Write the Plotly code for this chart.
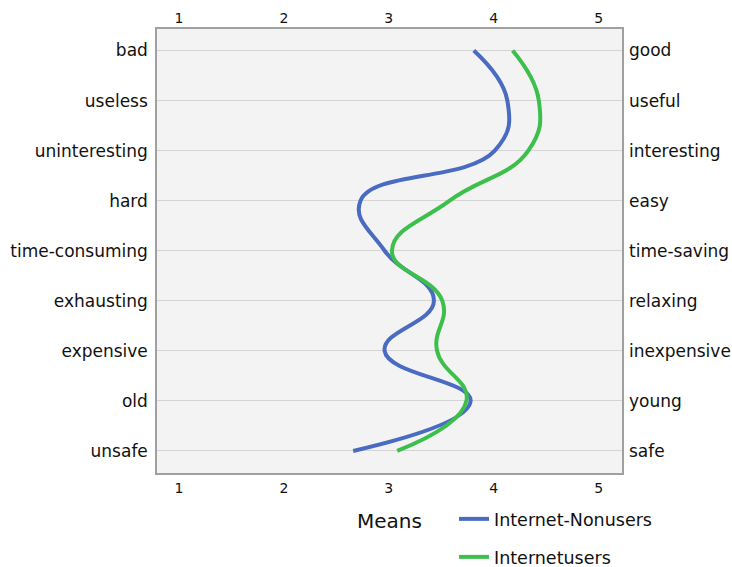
import plotly.graph_objects as go

neg_labels = ["bad", "useless", "uninteresting", "hard", "time-consuming",
              "exhausting", "expensive", "old", "unsafe"]
pos_labels = ["good", "useful", "interesting", "easy", "time-saving",
              "relaxing", "inexpensive", "young", "safe"]
nonusers = [3.81, 4.13, 4.01, 2.73, 2.96, 3.43, 2.96, 3.78, 2.66]
users = [4.18, 4.43, 4.33, 3.58, 3.03, 3.51, 3.46, 3.74, 3.08]
x_ticks = [1, 2, 3, 4, 5]

BLUE = "#4a6bc2"
GREEN = "#3dbf4c"
FONT = "DejaVu Sans"
SM = 1.3

fig = go.Figure()
fig.add_trace(go.Scatter(x=nonusers, y=neg_labels, mode="lines", name="Internet-Nonusers",
                         line=dict(color=BLUE, width=4, shape="spline", smoothing=SM),
                         legend="legend"))
fig.add_trace(go.Scatter(x=users, y=neg_labels, mode="lines", name="Internetusers",
                         line=dict(color=GREEN, width=4, shape="spline", smoothing=SM),
                         legend="legend2"))
# dummy trace to activate the mirrored top / right axes
fig.add_trace(go.Scatter(x=users, y=pos_labels, xaxis="x2", yaxis="y2", mode="lines",
                         line=dict(width=0), opacity=0, showlegend=False, hoverinfo="skip"))

yr = [8.44, -0.43]
xr = [0.79, 5.223]
PLOT_H = 567 - 29 - 94
LX = (454 - 157) / 465
fig.update_layout(
    width=732, height=567,
    margin=dict(l=157, r=110, t=29, b=94),
    paper_bgcolor="white",
    plot_bgcolor="#f3f3f3",
    font=dict(family=FONT, size=17, color="#111111"),
    xaxis=dict(range=xr, tickvals=x_ticks, ticks="", showgrid=False, zeroline=False,
               showline=True, linecolor="#a0a0a0", linewidth=1.5, mirror=True, automargin=False,
               tickfont=dict(size=14), ticklabelstandoff=1),
    xaxis2=dict(range=xr, tickvals=x_ticks, overlaying="x", side="top", anchor="y",
                showgrid=False, zeroline=False, tickfont=dict(size=14), matches="x",
                automargin=False, ticklabelstandoff=2),
    yaxis=dict(range=yr, type="category", categoryarray=neg_labels, showgrid=True,
               gridcolor="#d4d4d4", gridwidth=1, showline=True, linecolor="#a0a0a0",
               linewidth=1.5, mirror=True, ticks="", ticklabelstandoff=4, automargin=False,
               tickfont=dict(size=17)),
    yaxis2=dict(range=yr, type="category", categoryarray=pos_labels, overlaying="y",
                side="right", anchor="x", showgrid=False, zeroline=False, ticks="",
                ticklabelstandoff=6, automargin=False, tickfont=dict(size=17)),
    legend=dict(x=LX, y=1 - 519 / 567, xref="paper", yref="container",
                xanchor="left", yanchor="middle",
                bgcolor="rgba(0,0,0,0)", font=dict(size=17.5), itemwidth=30),
    legend2=dict(x=LX, y=1 - 557 / 567, xref="paper", yref="container",
                 xanchor="left", yanchor="middle",
                 bgcolor="rgba(0,0,0,0)", font=dict(size=17.5), itemwidth=30),
    annotations=[dict(text="Means", x=0.5, xref="paper", y=-(521 - 473) / PLOT_H, yref="paper",
                      xanchor="center", yanchor="middle", showarrow=False,
                      font=dict(size=20, color="#111111"))],
)

fig.write_html("out.html", config={"displayModeBar": False},
               post_script="document.body.style.margin='0';")
